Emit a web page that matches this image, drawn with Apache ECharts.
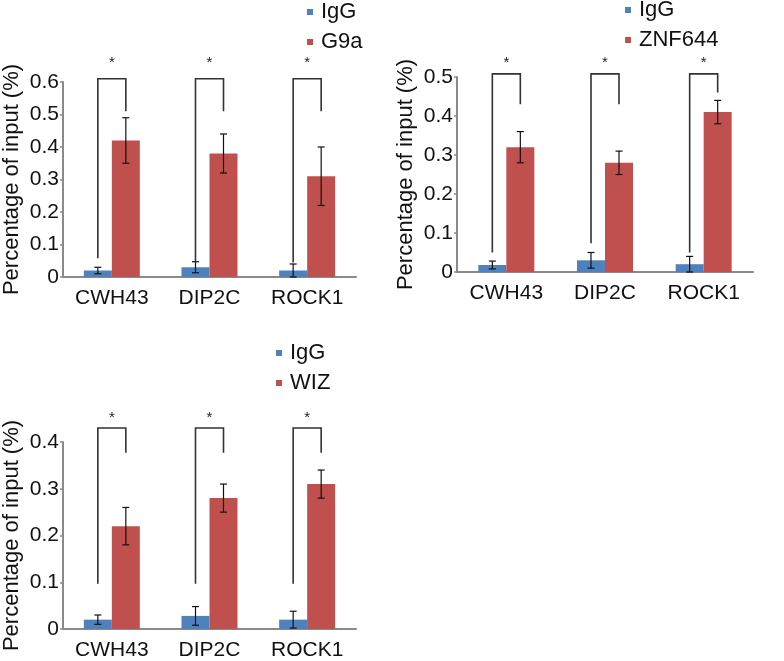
<!DOCTYPE html>
<html>
<head>
<meta charset="utf-8">
<script src="https://cdn.jsdelivr.net/npm/echarts@6/dist/echarts.min.js"></script>
<style>
  html, body { margin: 0; padding: 0; background: #fff; }
  #chart { width: 784px; height: 661px; }
</style>
</head>
<body>
<div id="chart"></div>
<script>
// genes on the x axis
const categories = ['CWH43', 'DIP2C', 'ROCK1'];

// panel 1: G9a
const g9aIgG = [0.02, 0.03, 0.02];
const g9aIgGErr = [0.01, 0.017, 0.02];
const g9a = [0.42, 0.38, 0.31];
const g9aErr = [0.07, 0.06, 0.09];
const g9aBracketTop = 0.61;
const g9aBracketLeft = [0.058, 0.043, 0.045];
const g9aBracketRight = [0.51, 0.51, 0.51];
const g9aStar = 0.66;

// panel 2: ZNF644
const znfIgG = [0.018, 0.03, 0.02];
const znfIgGErr = [0.01, 0.02, 0.02];
const znf = [0.32, 0.28, 0.41];
const znfErr = [0.04, 0.03, 0.03];
const znfBracketTop = 0.508;
const znfBracketLeft = [0.05, 0.074, 0.05];
const znfBracketRight = [0.43, 0.43, 0.46];
const znfStar = 0.536;

// panel 3: WIZ
const wizIgG = [0.02, 0.028, 0.02];
const wizIgGErr = [0.01, 0.02, 0.018];
const wiz = [0.22, 0.28, 0.31];
const wizErr = [0.04, 0.03, 0.03];
const wizBracketTop = 0.43;
const wizBracketLeft = [0.097, 0.097, 0.097];
const wizBracketRight = [0.377, 0.377, 0.377];
const wizStar = 0.452;

const BLUE = '#4f81bd';
const RED = '#c0504d';
const AXIS = '#8a8a8a';
const FONT = 'Liberation Sans';
const HALF = 14; // half bar width

const chart = echarts.init(document.getElementById('chart'));

function errorSeries(idx, means, errs, shift) {
    return {
        type: 'custom',
        xAxisIndex: idx, yAxisIndex: idx,
        silent: true, z: 5,
        data: means.map((m, i) => [i, m, errs[i]]),
        renderItem(params, api) {
            const c = api.value(0), m = api.value(1), e = api.value(2);
            const top = api.coord([c, m + e]);
            const bot = api.coord([c, m - e]);
            const x = top[0] + shift;
            const st = { stroke: '#111', lineWidth: 1.2 };
            return {
                type: 'group',
                children: [
                    { type: 'line', shape: { x1: x, y1: top[1], x2: x, y2: bot[1] }, style: st },
                    { type: 'line', shape: { x1: x - 3.5, y1: top[1], x2: x + 3.5, y2: top[1] }, style: st },
                    { type: 'line', shape: { x1: x - 3.5, y1: bot[1], x2: x + 3.5, y2: bot[1] }, style: st }
                ]
            };
        }
    };
}

function bracketSeries(idx, topVal, lefts, rights, starVal) {
    return {
        type: 'custom',
        xAxisIndex: idx, yAxisIndex: idx,
        silent: true, z: 6,
        data: lefts.map((l, i) => [i, topVal, l, rights[i], starVal]),
        renderItem(params, api) {
            const c = api.value(0);
            const t = api.coord([c, api.value(1)]);
            const l = api.coord([c, api.value(2)]);
            const r = api.coord([c, api.value(3)]);
            const s = api.coord([c, api.value(4)]);
            return {
                type: 'group',
                children: [
                    {
                        type: 'polyline',
                        shape: { points: [[t[0] - HALF, l[1]], [t[0] - HALF, t[1]], [t[0] + HALF, t[1]], [t[0] + HALF, r[1]]] },
                        style: { stroke: '#333', lineWidth: 1.6, fill: null }
                    },
                    {
                        type: 'text',
                        x: s[0], y: s[1],
                        style: { text: '*', fontSize: 15, fontFamily: FONT, fill: '#222', align: 'center', verticalAlign: 'middle' }
                    }
                ]
            };
        }
    };
}

function panelSeries(idx, name, igg, iggErr, vals, errs, bTop, bLeft, bRight, star) {
    return [
        { name: 'IgG', type: 'bar', xAxisIndex: idx, yAxisIndex: idx, data: igg, barWidth: 28, barGap: '0%', itemStyle: { color: BLUE } },
        { name: name, type: 'bar', xAxisIndex: idx, yAxisIndex: idx, data: vals, barWidth: 28, barGap: '0%', itemStyle: { color: RED } },
        errorSeries(idx, igg, iggErr, -HALF),
        errorSeries(idx, vals, errs, HALF),
        bracketSeries(idx, bTop, bLeft, bRight, star)
    ];
}

function xAxis(idx) {
    return {
        type: 'category', gridIndex: idx, data: categories,
        axisLine: { lineStyle: { color: AXIS, width: 2 } },
        axisTick: { show: false },
        axisLabel: { color: '#111', fontSize: 21, fontFamily: FONT, margin: 11 }
    };
}

function yAxis(idx, max) {
    return {
        type: 'value', gridIndex: idx, min: 0, max: max, interval: 0.1,
        name: 'Percentage of input (%)', nameLocation: 'middle', nameGap: 40,
        nameTextStyle: { color: '#111', fontSize: 22, fontFamily: FONT },
        splitLine: { show: false },
        axisLine: { show: true, lineStyle: { color: AXIS, width: 2 } },
        axisTick: { show: true, length: 3, lineStyle: { color: AXIS, width: 1.5 } },
        axisLabel: { color: '#111', fontSize: 21, fontFamily: FONT, margin: 4 }
    };
}

function legend(names, left, top) {
    return {
        data: names, orient: 'vertical', left: left, top: top,
        icon: 'rect', itemWidth: 6, itemHeight: 6, itemGap: 6,
        textStyle: { color: '#111', fontSize: 22, fontFamily: FONT, lineHeight: 24, padding: [0, 0, 0, 3] },
        selectedMode: false
    };
}

chart.setOption({
    animation: false,
    backgroundColor: '#fff',
    legend: [
        legend(['IgG', 'G9a'], 302, -5),
        legend(['IgG', 'ZNF644'], 620, -7),
        legend(['IgG', 'WIZ'], 271, 336)
    ],
    grid: [
        { left: 61, top: 82, width: 295, height: 195 },
        { left: 457, top: 77, width: 296, height: 195 },
        { left: 60, top: 442, width: 296, height: 193 }
    ],
    xAxis: [xAxis(0), xAxis(1), xAxis(2)],
    yAxis: [yAxis(0, 0.6), yAxis(1, 0.5), yAxis(2, 0.4)],
    series: [].concat(
        panelSeries(0, 'G9a', g9aIgG, g9aIgGErr, g9a, g9aErr, g9aBracketTop, g9aBracketLeft, g9aBracketRight, g9aStar),
        panelSeries(1, 'ZNF644', znfIgG, znfIgGErr, znf, znfErr, znfBracketTop, znfBracketLeft, znfBracketRight, znfStar),
        panelSeries(2, 'WIZ', wizIgG, wizIgGErr, wiz, wizErr, wizBracketTop, wizBracketLeft, wizBracketRight, wizStar)
    )
});
</script>
</body>
</html>
